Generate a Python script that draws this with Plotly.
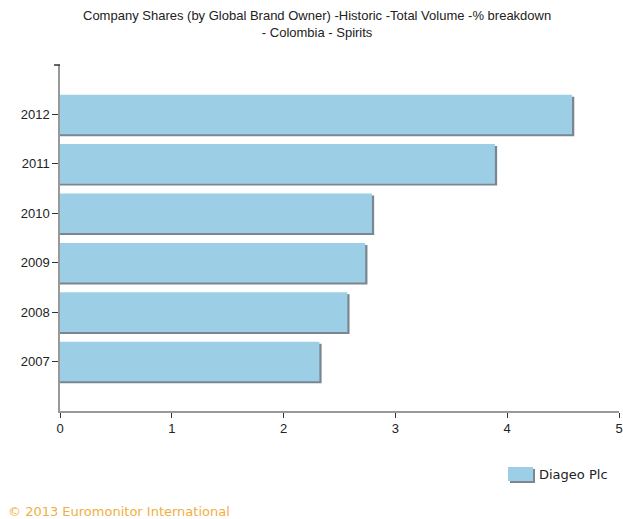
import plotly.graph_objects as go

years = ["2007", "2008", "2009", "2010", "2011", "2012"]
shares = [2.32, 2.57, 2.73, 2.79, 3.89, 4.58]
series_name = "Diageo Plc"
x_ticks = [0, 1, 2, 3, 4, 5]

idx = list(range(len(years)))
fig = go.Figure()
# shadow
fig.add_trace(go.Bar(
    y=idx, x=[v + 0.02 for v in shares], orientation="h",
    width=0.8, offset=-0.44, marker=dict(color="#7a8690", line=dict(width=0)),
    showlegend=False, hoverinfo="skip"))
fig.add_trace(go.Bar(
    y=idx, x=shares, orientation="h", name=series_name,
    width=0.8, offset=-0.4, marker=dict(color="#9ccfe6", line=dict(width=0)),
    showlegend=False))

PW = 559.0
PH = 346.0

fig.update_layout(
    width=623, height=519,
    margin=dict(l=60, r=4, t=65, b=108),
    barmode="overlay",
    paper_bgcolor="white", plot_bgcolor="white",
    font=dict(family="Liberation Sans, Arial", size=13, color="#222"),
    xaxis=dict(range=[0, 5], tickvals=x_ticks, showgrid=False, zeroline=False,
               showline=True, linecolor="#999", linewidth=1.5, automargin=False,
               ticks="outside", ticklen=5, tickcolor="#333",
               tickfont=dict(family="Liberation Sans, Arial", size=13, color="#222")),
    yaxis=dict(range=[-1, 6], tickvals=idx, ticktext=years, showgrid=False, zeroline=False,
               showline=True, linecolor="#999", linewidth=1.5, automargin=False,
               ticks="outside", ticklen=6, tickcolor="#333",
               tickfont=dict(family="Liberation Sans, Arial", size=13, color="#222")),
    showlegend=False,
)

fig.add_annotation(text="Company Shares (by Global Brand Owner) -Historic -Total Volume -% breakdown<br>- Colombia - Spirits",
                   xref="paper", yref="paper", x=(317 - 60) / PW, y=(411 - 24) / PH,
                   xanchor="center", yanchor="middle", showarrow=False, align="center",
                   font=dict(family="Liberation Sans Narrow, Liberation Sans, Arial", size=13, color="#222"))

# legend swatch (shadow + box) and label
fig.add_shape(type="rect", xref="paper", yref="paper",
              x0=(510 - 60) / PW, x1=(535 - 60) / PW,
              y0=(411 - 483) / PH, y1=(411 - 469) / PH,
              fillcolor="#7a8690", line=dict(width=0))
fig.add_shape(type="rect", xref="paper", yref="paper",
              x0=(508 - 60) / PW, x1=(533 - 60) / PW,
              y0=(411 - 481) / PH, y1=(411 - 467) / PH,
              fillcolor="#9ccfe6", line=dict(width=0))
fig.add_annotation(text=series_name, xref="paper", yref="paper",
                   x=(537 - 60) / PW, y=(411 - 474) / PH, xanchor="left", yanchor="middle",
                   showarrow=False, font=dict(family="DejaVu Sans, Verdana", size=13, color="#222"))
# top tick on y axis
fig.add_shape(type="line", xref="paper", yref="paper",
              x0=-6 / PW, x1=0, y0=1, y1=1, line=dict(color="#333", width=1.5))
fig.add_annotation(text="© 2013 Euromonitor International", xref="paper", yref="paper",
                   x=-54 / PW, y=(411 - 521) / PH, xanchor="left", yanchor="bottom",
                   showarrow=False, font=dict(family="DejaVu Sans, Verdana", size=13, color="#f0b040"))

fig.write_html("out.html")
